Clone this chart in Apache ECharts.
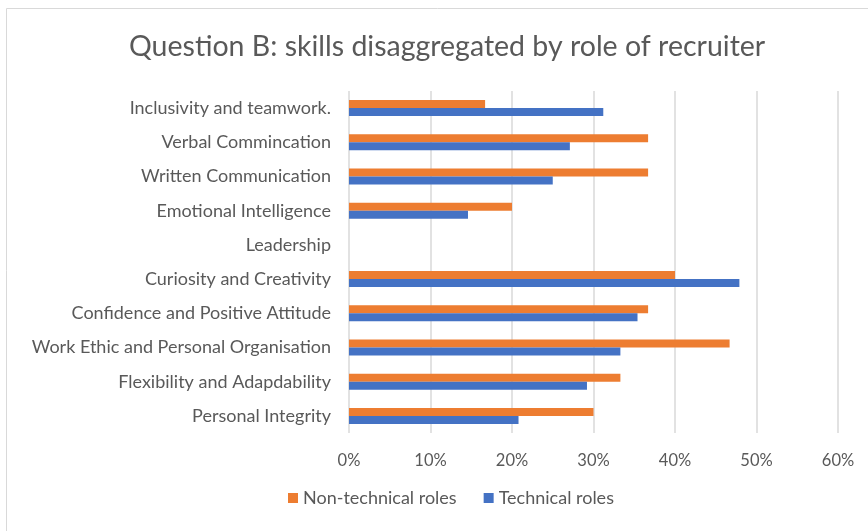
<!DOCTYPE html>
<html>
<head>
<meta charset="utf-8">
<script src="https://cdn.jsdelivr.net/npm/echarts@6/dist/echarts.min.js"></script>
<style>
  html, body { margin: 0; padding: 0; background: #fff; }
  #chart { width: 868px; height: 531px; }
</style>
</head>
<body>
<div id="chart"></div>
<script>
"use strict";
// categories top to bottom
var skills = [
    "Inclusivity and teamwork.",
    "Verbal Commincation",
    "Written Communication",
    "Emotional Intelligence",
    "Leadership",
    "Curiosity and Creativity",
    "Confidence and Positive Attitude",
    "Work Ethic and Personal Organisation",
    "Flexibility and Adapdability",
    "Personal Integrity"
];
var nonTechnical = [16.7, 36.7, 36.7, 20.0, 0, 40.0, 36.7, 46.7, 33.3, 30.0];
var technical = [31.2, 27.1, 25.0, 14.6, 0, 47.9, 35.4, 33.3, 29.2, 20.8];
var seriesNames = ["Non-technical roles", "Technical roles"];
var xTicks = [0, 10, 20, 30, 40, 50, 60];

function main() {
    var myChart = echarts.init(document.getElementById('chart'));
    var font = 'Lato, "Open Sans", sans-serif';
    var textColor = '#595959';
    var option = {
        animation: false,
        textStyle: { fontFamily: font },
        color: ['#ED7D31', '#4472C4'],
        graphic: [{
            type: 'rect',
            shape: { x: 6.5, y: 8.5, width: 900, height: 600 },
            style: { fill: 'none', stroke: '#d9d9d9', lineWidth: 1 },
            silent: true
        }],
        title: {
            text: 'Question B: skills disaggregated by role of recruiter',
            left: 124,
            top: 27,
            textStyle: { fontFamily: font, fontSize: 28.5, fontWeight: 'normal', color: textColor }
        },
        legend: {
            data: seriesNames,
            bottom: 19,
            left: 283,
            icon: 'rect',
            itemWidth: 10,
            itemHeight: 10,
            itemGap: 27,
            textStyle: { fontFamily: font, fontSize: 18, color: textColor }
        },
        grid: { left: 349, right: 30, top: 91, bottom: 98, containLabel: false },
        xAxis: {
            type: 'value',
            min: xTicks[0],
            max: xTicks[xTicks.length - 1],
            interval: 10,
            axisLine: { show: false },
            axisTick: { show: false },
            axisLabel: {
                formatter: '{value}%',
                fontSize: 16.5,
                color: textColor,
                margin: 19
            },
            splitLine: { lineStyle: { color: '#d9d9d9', width: 1.5 } }
        },
        yAxis: {
            type: 'category',
            data: skills,
            inverse: true,
            axisLine: { show: false },
            axisTick: { show: false },
            axisLabel: { fontSize: 18, color: textColor, margin: 18 }
        },
        series: [
            {
                name: seriesNames[0],
                type: 'bar',
                data: nonTechnical,
                barWidth: 8,
                barGap: '0%'
            },
            {
                name: seriesNames[1],
                type: 'bar',
                data: technical,
                barWidth: 8,
                barGap: '0%'
            }
        ]
    };
    myChart.setOption(option);
}
main();
</script>
</body>
</html>
